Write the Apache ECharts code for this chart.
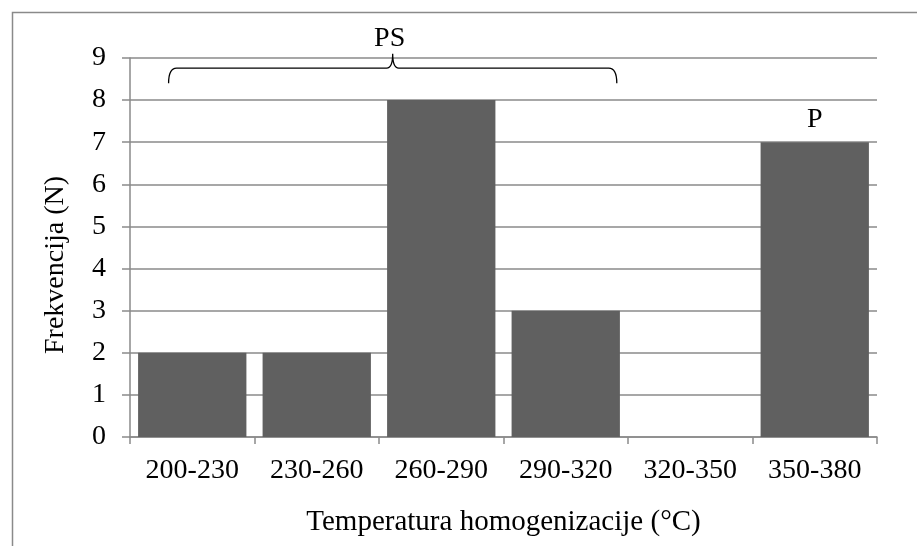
<!DOCTYPE html>
<html>
<head>
<meta charset="utf-8">
<script src="https://cdn.jsdelivr.net/npm/echarts@6/dist/echarts.min.js"></script>
<style>
html,body{margin:0;padding:0;background:#fff;}
#c{width:917px;height:546px;}
</style>
</head>
<body>
<div id="c"></div>
<script>
var categories = ['200-230', '230-260', '260-290', '290-320', '320-350', '350-380'];
var frequencies = [2, 2, 8, 3, 0, 7];
var yTicks = [0, 1, 2, 3, 4, 5, 6, 7, 8, 9];
var groupLabelPS = 'PS';
var groupLabelP = 'P';
var xTitle = 'Temperatura homogenizacije (°C)';
var yTitle = 'Frekvencija (N)';

var FONT = "'Liberation Serif', 'Times New Roman', serif";
var GRAY = '#8a8a8a';
var BAR = '#606060';

var chart = echarts.init(document.getElementById('c'), null, {renderer: 'canvas'});

var barData = frequencies.map(function (v, i) {
  if (i === categories.length - 1) {
    return {value: v, label: {show: true, position: 'top', distance: 9, formatter: groupLabelP,
      color: '#000', fontFamily: FONT, fontSize: 28}};
  }
  return v;
});

var option = {
  animation: false,
  backgroundColor: '#fff',
  graphic: [{
    type: 'rect', left: 10, top: 10, silent: true,
    shape: {width: 930, height: 560},
    style: {fill: 'none', stroke: GRAY, lineWidth: 1.5}
  }, {
    type: 'text', x: 56, y: 265, rotation: Math.PI / 2, silent: true,
    style: {text: yTitle, align: 'center', verticalAlign: 'middle',
      font: '28px ' + FONT, fill: '#000'}
  }],
  grid: {left: 130, right: 40, top: 58, bottom: 109, containLabel: false},
  xAxis: {
    type: 'category',
    data: categories,
    boundaryGap: true,
    axisLine: {show: true, lineStyle: {color: GRAY, width: 1.5}},
    axisTick: {show: true, length: 7, lineStyle: {color: GRAY, width: 1.5}},
    axisLabel: {color: '#000', fontFamily: FONT, fontSize: 28, margin: 20},
    name: xTitle,
    nameLocation: 'middle',
    nameGap: 71,
    nameTextStyle: {color: '#000', fontFamily: FONT, fontSize: 29}
  },
  yAxis: {
    type: 'value',
    min: yTicks[0],
    max: yTicks[yTicks.length - 1],
    interval: 1,
    axisLine: {show: true, lineStyle: {color: GRAY, width: 1.5}},
    axisTick: {show: true, length: 8, lineStyle: {color: GRAY, width: 1.5}},
    axisLabel: {color: '#000', fontFamily: FONT, fontSize: 28, margin: 24},
    splitLine: {show: true, lineStyle: {color: GRAY, width: 1.5}}
  },
  series: [{
    type: 'bar',
    data: barData,
    barCategoryGap: '13%',
    itemStyle: {color: BAR},
    z: 2
  }, {
    type: 'custom',
    data: [[0, 8.76]],
    z: 5,
    renderItem: function (params, api) {
      var bw = api.size([1, 0])[0];
      var p0 = api.coord([0, 8.76]);
      var p3 = api.coord([3, 8.4]);
      var pTip = api.coord([0, 9.1]);
      var pText = api.coord([0, 9.47]);
      var xL = p0[0] - 0.19 * bw;
      var xR = p3[0] + 0.41 * bw;
      var xM = (xL + xR) / 2;
      var yH = p0[1], yE = p3[1], yT = pTip[1];
      var r = 8;
      var d = 'M' + xL + ',' + yE +
        ' Q' + xL + ',' + yH + ' ' + (xL + r) + ',' + yH +
        ' L' + (xM - 6) + ',' + yH +
        ' Q' + xM + ',' + yH + ' ' + xM + ',' + yT +
        ' Q' + xM + ',' + yH + ' ' + (xM + 6) + ',' + yH +
        ' L' + (xR - r) + ',' + yH +
        ' Q' + xR + ',' + yH + ' ' + xR + ',' + yE;
      return {
        type: 'group',
        children: [{
          type: 'path',
          shape: {pathData: d},
          style: {fill: null, stroke: '#000', lineWidth: 1.3}
        }, {
          type: 'text',
          style: {text: groupLabelPS, x: xM - 3, y: pText[1], align: 'center', verticalAlign: 'middle',
            font: '28px ' + FONT, fill: '#000'}
        }]
      };
    }
  }]
};
chart.setOption(option);
</script>
</body>
</html>
